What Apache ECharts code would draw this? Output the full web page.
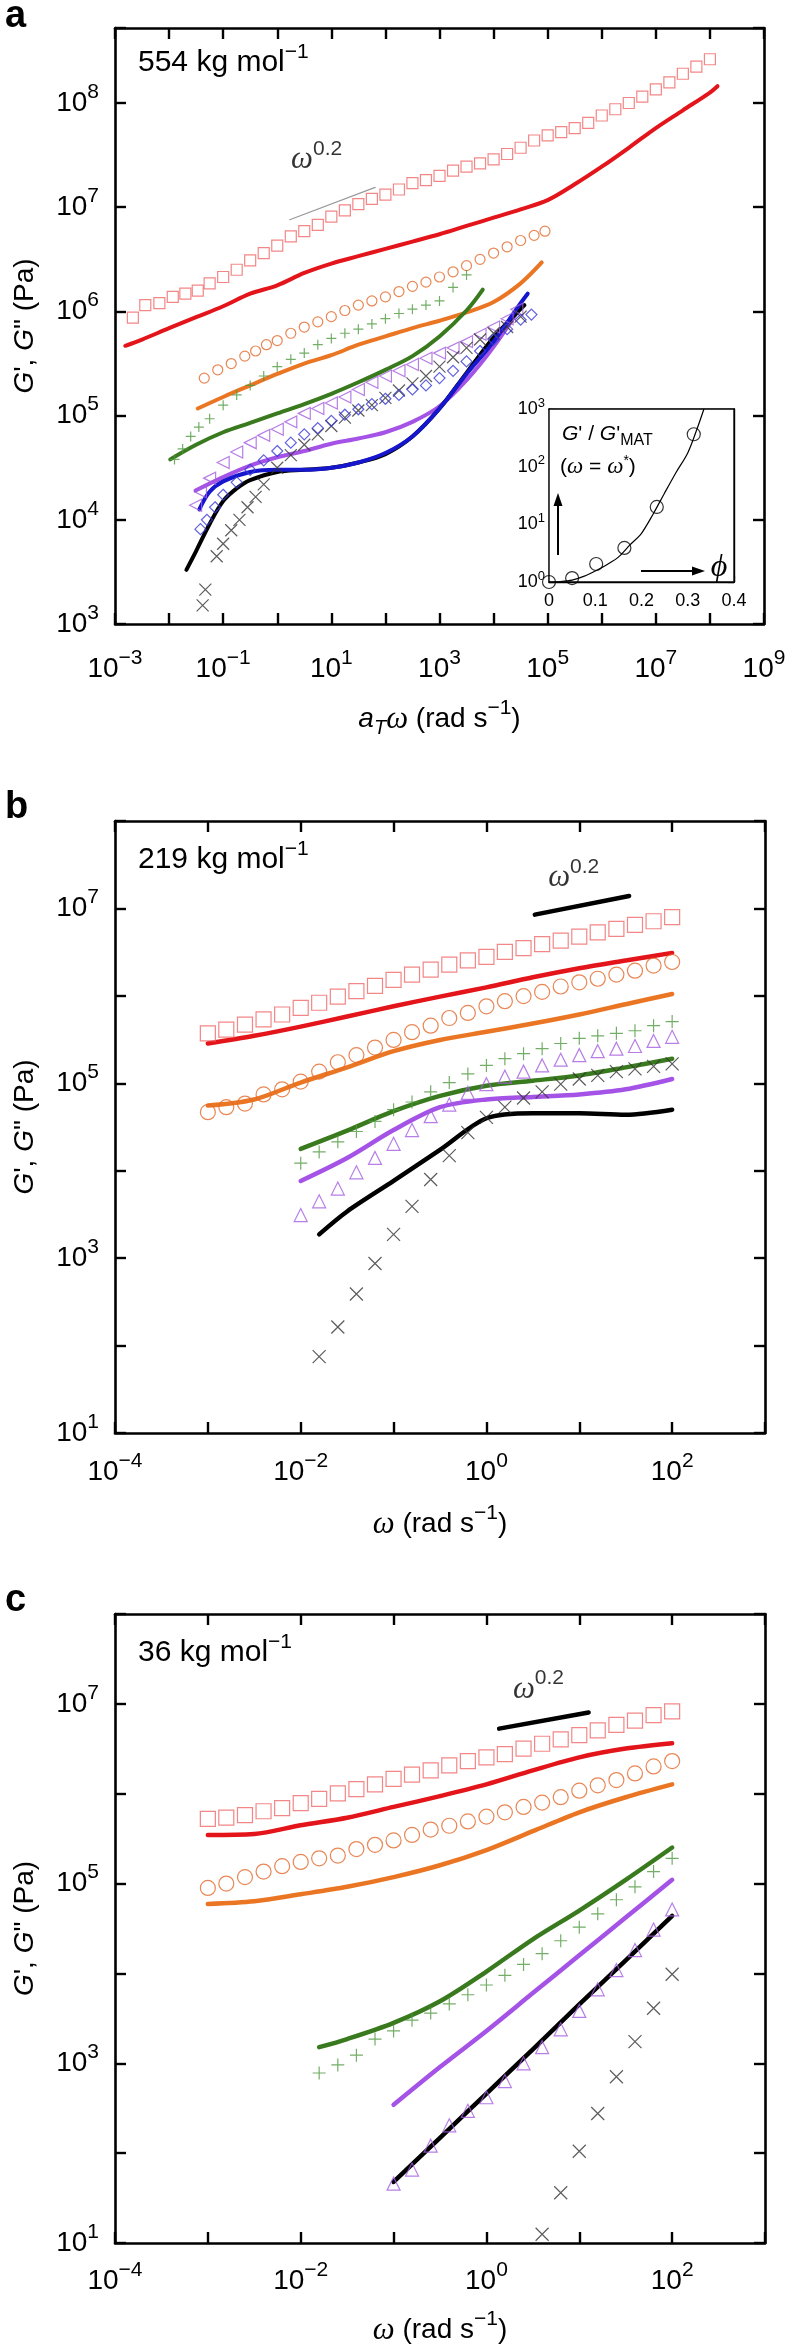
<!DOCTYPE html>
<html><head><meta charset="utf-8">
<script src="https://cdn.jsdelivr.net/npm/echarts@6/dist/echarts.min.js"></script>
<style>html,body{margin:0;padding:0;background:#fff}#c{width:788px;height:2346px}</style>
</head><body><div id="c"></div>
<script>
// ---------------- DATA (real units) ----------------
// Panel a : 554 kg/mol, master curves vs aT*omega
const aRedSqX = [2.14e-3,3.63e-3,6.61e-3,1.17e-2,2.0e-2,3.39e-2,5.62e-2,0.1,0.178,0.316,0.562,1,1.78,3.16,5.62,10,17.8,31.6,56.2,100,178,316,562,1e3,1.78e3,3.16e3,5.62e3,1e4,1.78e4,3.16e4,5.62e4,1e5,1.78e5,3.16e5,5.62e5,1e6,1.78e6,3.16e6,5.62e6,1e7,1.78e7,3.16e7,5.62e7,1e8];
const aRedSqY = [8.7e5,1.15e6,1.2e6,1.38e6,1.48e6,1.58e6,1.86e6,2.14e6,2.51e6,3.09e6,3.63e6,4.27e6,5.25e6,5.89e6,6.76e6,8.13e6,9.33e6,1.07e7,1.2e7,1.32e7,1.48e7,1.7e7,1.82e7,2.0e7,2.24e7,2.45e7,2.63e7,2.88e7,3.24e7,3.72e7,4.37e7,4.9e7,5.25e7,5.75e7,6.46e7,7.59e7,8.71e7,1e8,1.15e8,1.35e8,1.58e8,1.91e8,2.24e8,2.63e8];
const aRedLineX = [1.55e-3,3.16e-3,0.01,0.0316,0.1,0.316,1,3.16,10,31.6,100,316,1e3,3.16e3,1e4,3.16e4,1e5,3.16e5,1e6,3.16e6,1e7,3.16e7,1e8,1.38e8];
const aRedLineY = [4.68e5,5.37e5,6.9e5,8.8e5,1.12e6,1.48e6,1.78e6,2.34e6,2.88e6,3.39e6,3.98e6,4.68e6,5.5e6,6.61e6,7.94e6,9.55e6,1.17e7,1.66e7,2.45e7,3.72e7,5.75e7,8.51e7,1.26e8,1.45e8];
const aOrangeCircX = [0.0447,0.0794,0.141,0.251,0.398,0.631,1,1.78,3.16,5.62,10,17.8,31.6,56.2,100,178,316,562,1e3,1.78e3,3.16e3,5.62e3,1e4,1.78e4,3.16e4,5.62e4,8.91e4];
const aOrangeCircY = [2.29e5,2.75e5,3.16e5,3.72e5,4.17e5,4.79e5,5.25e5,6.17e5,7.08e5,7.94e5,8.91e5,1.02e6,1.15e6,1.26e6,1.38e6,1.55e6,1.74e6,1.91e6,2.14e6,2.4e6,2.75e6,3.16e6,3.63e6,4.17e6,4.79e6,5.37e6,5.89e6];
const aOrangeLineX = [0.0339,0.1,0.316,1,3.16,10,31.6,100,316,1e3,3.16e3,1e4,3.16e4,7.76e4];
const aOrangeLineY = [1.17e5,1.51e5,1.95e5,2.51e5,3.16e5,3.8e5,4.79e5,5.75e5,6.92e5,8.13e5,9.77e5,1.23e6,1.86e6,2.95e6];
const aGreenPlusX = [0.0126,0.0178,0.0251,0.0355,0.0562,0.1,0.178,0.316,0.562,1,1.78,3.16,5.62,10,17.8,31.6,56.2,100,178,316,562,1e3,1.78e3,3.16e3];
const aGreenPlusY = [3.8e4,4.79e4,6.31e4,7.76e4,9.33e4,1.26e5,1.58e5,1.95e5,2.4e5,2.95e5,3.47e5,3.98e5,4.79e5,5.5e5,6.17e5,6.76e5,7.59e5,8.51e5,9.55e5,1.05e6,1.15e6,1.26e6,1.7e6,2.24e6];
const aGreenLineX = [0.0105,0.0316,0.1,0.316,1,3.16,10,31.6,100,316,1e3,3.16e3,6.31e3];
const aGreenLineY = [3.8e4,5.25e4,6.92e4,8.51e4,1.05e5,1.29e5,1.62e5,2.09e5,2.75e5,3.72e5,5.75e5,1.02e6,1.62e6];
const aPurpleTriX = [0.0309,0.038,0.0562,0.1,0.178,0.316,0.562,1,1.78,3.16,5.62,10,17.8,31.6,56.2,100,178,316,562,1e3,1.78e3,3.16e3,5.62e3,1e4,1.78e4,2.69e4];
const aPurpleTriY = [1.38e4,1.86e4,2.51e4,3.55e4,4.47e4,5.5e4,6.46e4,7.41e4,8.71e4,1.05e5,1.17e5,1.32e5,1.51e5,1.78e5,2.09e5,2.4e5,2.69e5,3.09e5,3.55e5,3.98e5,4.47e5,5.13e5,6.03e5,7.08e5,8.51e5,1.05e6];
const aPurpleLineX = [0.0309,0.1,0.316,1,3.16,10,31.6,100,316,1e3,3.16e3,1e4,3.31e4];
const aPurpleLineY = [1.91e4,2.57e4,3.31e4,3.98e4,4.57e4,5.37e4,6.03e4,6.92e4,8.71e4,1.23e5,2.19e5,4.57e5,1.15e6];
const aBlueDiaX = [0.038,0.0501,0.0708,0.1,0.178,0.316,0.562,1,1.78,3.16,5.62,10,17.8,31.6,56.2,100,178,316,562,1e3,1.78e3,3.16e3,5.62e3,1e4,1.78e4,3.16e4,5.01e4];
const aBlueDiaY = [8.13e3,1e4,1.32e4,1.74e4,2.29e4,3.02e4,3.72e4,4.57e4,5.5e4,6.61e4,7.59e4,8.91e4,1.02e5,1.15e5,1.29e5,1.45e5,1.58e5,1.78e5,1.95e5,2.29e5,2.69e5,3.31e5,4.17e5,5.37e5,6.76e5,8.32e5,9.33e5];
const aBlueLineX = [0.0363,0.0562,0.1,0.316,1,3.16,10,31.6,100,316,1e3,3.16e3,1e4,3.16e4,4.27e4];
const aBlueLineY = [1.26e4,1.86e4,2.34e4,2.88e4,3.02e4,3.02e4,3.16e4,3.55e4,4.37e4,6.31e4,1.17e5,2.51e5,5.13e5,1.2e6,1.48e6];
const aBlackLineX = [0.0209,0.0316,0.0562,0.1,0.178,0.316,1,3.16,10,31.6,100,316,1e3,3.16e3,1e4,3.72e4];
const aBlackLineY = [3.31e3,5.01e3,9.12e3,1.51e4,2.0e4,2.4e4,2.88e4,3.02e4,3.16e4,3.55e4,4.27e4,6.31e4,1.17e5,2.57e5,5.62e5,1.15e6];
const aBlackXX = [0.0417,0.0468,0.0759,0.1,0.141,0.2,0.282,0.398,0.562,1,1.78,3.16,5.62,10,17.8,31.6,56.2,100,178,316,562,1e3,1.78e3,3.16e3,5.62e3,1e4,1.78e4,3.16e4];
const aBlackXY = [1.51e3,2.14e3,4.47e3,5.89e3,7.94e3,1e4,1.32e4,1.66e4,2.19e4,3.16e4,4.17e4,5.25e4,6.61e4,7.94e4,9.55e4,1.12e5,1.26e5,1.48e5,1.74e5,2.04e5,2.4e5,2.95e5,3.63e5,4.47e5,5.37e5,6.17e5,7.08e5,8.91e5];
const aSlopeX = [1.7,64.6];
const aSlopeY = [7.59e6,1.55e7];
const aSlopeLabel = [5.35,2.82e7];

// Inset of panel a
const insetPhi = [0,0.05,0.102,0.163,0.233,0.313];
const insetRatio = [1.0,1.17,2.05,3.9,20,365];
const insetFitPhi = [0,0.025,0.05,0.075,0.1,0.125,0.15,0.175,0.2,0.225,0.25,0.275,0.3,0.32,0.335];
const insetFitRatio = [1.0,1.02,1.08,1.25,1.55,2.0,2.7,4.4,7,15,35,80,173,450,1000];

// Panel b : 219 kg/mol
const bFreq = [0.001,0.00158,0.00251,0.00398,0.00631,0.01,0.0158,0.0251,0.0398,0.0631,0.1,0.158,0.251,0.398,0.631,1,1.58,2.51,3.98,6.31,10,15.8,25.1,39.8,63.1,100];
const bRedSqY = [3.73e5,4.10e5,4.69e5,5.37e5,6.12e5,7.29e5,8.34e5,9.79e5,1.135e6,1.30e6,1.52e6,1.75e6,2.0e6,2.28e6,2.54e6,2.79e6,3.19e6,3.51e6,3.90e6,4.29e6,4.76e6,5.31e6,5.83e6,6.49e6,7.13e6,7.94e6];
const bOrangeCircY = [4.67e4,5.33e4,5.86e4,7.46e4,8.53e4,1.045e5,1.36e5,1.74e5,2.10e5,2.56e5,3.13e5,3.84e5,4.56e5,5.58e5,6.38e5,7.60e5,8.69e5,9.93e5,1.11e6,1.28e6,1.43e6,1.57e6,1.75e6,1.94e6,2.22e6,2.44e6];
const bPlusX = [0.01,0.0158,0.0251,0.0398,0.0631,0.1,0.158,0.251,0.398,0.631,1,1.58,2.51,3.98,6.31,10,15.8,25.1,39.8,63.1,100];
const bPlusY = [1.22e4,1.64e4,2.14e4,2.81e4,3.66e4,4.99e4,6.11e4,7.98e4,1.02e5,1.28e5,1.60e5,1.91e5,2.18e5,2.49e5,2.85e5,3.27e5,3.49e5,3.73e5,3.99e5,4.56e5,5.08e5];
const bTriY = [3.11e3,4.47e3,6.25e3,9.59e3,1.40e4,2.03e4,2.92e4,4.20e4,5.71e4,7.76e4,9.77e4,1.19e5,1.36e5,1.60e5,1.86e5,2.10e5,2.33e5,2.49e5,2.67e5,3.05e5,3.40e5];
const bXX = [0.0158,0.0251,0.0398,0.0631,0.1,0.158,0.251,0.398,0.631,1,1.58,2.51,3.98,6.31,10,15.8,25.1,39.8,63.1,100];
const bXY = [74.8,163,389,869,1.87e3,3.91e3,7.94e3,1.49e4,2.73e4,4.08e4,5.33e4,6.79e4,7.98e4,9.77e4,1.12e5,1.23e5,1.36e5,1.46e5,1.56e5,1.67e5];
const bLineX = [0.001,0.00316,0.01,0.0316,0.1,0.316,1,3.16,10,31.6,100];
const bRedLineY = [2.85e5,3.49e5,4.45e5,5.81e5,7.6e5,9.8e5,1.25e6,1.63e6,2.07e6,2.54e6,3.1e6];
const bOrangeLineY = [5.56e4,6.53e4,1.02e5,1.52e5,2.33e5,3.13e5,3.88e5,4.82e5,6.12e5,8.02e5,1.05e6];
const bGreenLineX = [0.01,0.0316,0.1,0.316,1,3.16,10,31.6,100];
const bGreenLineY = [1.78e4,2.88e4,4.8e4,7.18e4,9.38e4,1.07e5,1.23e5,1.52e5,1.91e5];
const bPurpleLineY = [7.64e3,1.4e4,2.92e4,5.33e4,6.53e4,6.98e4,7.46e4,8.53e4,1.12e5];
const bBlackLineX = [0.0158,0.0316,0.1,0.316,1,3.16,10,31.6,100];
const bBlackLineY = [1.87e3,3.42e3,7.64e3,1.73e4,3.98e4,4.55e4,4.55e4,4.37e4,4.99e4];
const bSlopeX = [3.32,34.4];
const bSlopeY = [8.49e6,1.39e7];
const bSlopeLabel = [8.7,2.24e7];

// Panel c : 36 kg/mol
const cFreq = [0.001,0.00158,0.00251,0.00398,0.00631,0.01,0.0158,0.0251,0.0398,0.0631,0.1,0.158,0.251,0.398,0.631,1,1.58,2.51,3.98,6.31,10,15.8,25.1,39.8,63.1,100];
const cRedSqY = [5.26e5,5.41e5,5.79e5,6.38e5,6.93e5,7.85e5,8.77e5,1.007e6,1.125e6,1.27e6,1.46e6,1.63e6,1.82e6,2.07e6,2.31e6,2.54e6,2.76e6,3.18e6,3.60e6,4.02e6,4.49e6,5.08e6,5.83e6,6.52e6,7.48e6,8.24e6];
const cOrangeCircY = [8.95e4,1.0e5,1.18e5,1.36e5,1.56e5,1.74e5,1.91e5,2.05e5,2.42e5,2.70e5,3.02e5,3.48e5,3.99e5,4.40e5,4.91e5,5.56e5,6.21e5,7.13e5,7.96e5,9.14e5,1.08e6,1.24e6,1.42e6,1.68e6,2.01e6,2.31e6];
const cPlusX = [0.0158,0.0251,0.0398,0.0631,0.1,0.158,0.251,0.398,0.631,1,1.58,2.51,3.98,6.31,10,15.8,25.1,39.8,63.1,100];
const cPlusY = [780,959,1.23e3,1.86e3,2.29e3,3.02e3,3.62e3,4.58e3,5.79e3,7.43e3,9.53e3,1.26e4,1.66e4,2.31e4,3.27e4,4.61e4,6.61e4,9.2e4,1.36e5,1.91e5];
const cTriX = [0.1,0.158,0.251,0.398,0.631,1,1.58,2.51,3.98,6.31,10,15.8,25.1,39.8,63.1,100];
const cTriY = [45.8,65.6,121,204,296,419,634,1.0e3,1.51e3,2.39e3,3.83e3,6.65e3,1.09e4,1.82e4,3.08e4,5.15e4];
const cXX = [3.98,6.31,10,15.8,25.1,39.8,63.1,100];
const cXY = [12.5,36.2,105,276,708,1.74e3,4.1e3,9.79e3];
const cLineX = [0.001,0.00316,0.01,0.0316,0.1,0.316,1,3.16,10,31.6,100];
const cRedLineY = [3.48e5,3.57e5,4.46e5,5.41e5,7.13e5,9.4e5,1.27e6,1.82e6,2.54e6,3.18e6,3.65e6];
const cOrangeLineY = [5.92e4,6.34e4,7.59e4,9.2e4,1.18e5,1.6e5,2.36e5,3.83e5,6.21e5,9.14e5,1.27e6];
const cGreenLineX = [0.0158,0.0316,0.1,0.316,1,3.16,10,31.6,100];
const cGreenLineY = [1.51e3,1.86e3,2.82e3,4.91e3,1.05e4,2.4e4,5.01e4,1.1e5,2.52e5];
const cPurpleLineX = [0.1,0.316,1,3.16,10,31.6,100];
const cPurpleLineY = [345,908,2.29e3,6.04e3,1.59e4,4.19e4,1.1e5];
const cBlackLineX = [0.1,0.316,1,3.16,10,31.6,100];
const cBlackLineY = [47.8,148,461,1.43e3,4.52e3,1.4e4,4.37e4];
const cSlopeX = [1.37,12.6];
const cSlopeY = [5.3e6,8.02e6];
const cSlopeLabel = [3.63,1.45e7];

// ---------------- STYLE ----------------
const FONT = '"Liberation Sans", Arial, Helvetica, sans-serif';
const SERIF = '"Liberation Serif", "Times New Roman", serif';
const C = {
  redSq:'#f06868', redLine:'#e3141a', orCirc:'#e2692b', orLine:'#ea7624',
  grPlus:'#4f9a3f', grLine:'#3a7a1e', puTri:'#a45ee0', puLine:'#a453e6',
  blDia:'#3a3ad6', blLine:'#1616cc', bkX:'#333333', bkLine:'#000000'
};
const PLUS = 'path://M0,5L10,5M5,0L5,10';
const CROSS = 'path://M0,0L10,10M0,10L10,0';
const LEFT_TRI = 'path://M0,5L10,0L10,10Z';

const RICH = {
  b:{fontFamily:FONT,fontSize:28,color:'#000'},
  s:{fontFamily:FONT,fontSize:21,color:'#000',verticalAlign:'top',padding:[0,0,22,0]},
  i:{fontFamily:FONT,fontSize:28,color:'#000',fontStyle:'italic'},
  n:{fontFamily:FONT,fontSize:28,color:'#000'},
  sub:{fontFamily:FONT,fontSize:20,color:'#000',fontStyle:'italic',verticalAlign:'bottom',padding:[0,0,3,0]},
  w:{fontFamily:SERIF,fontSize:31,color:'#000',fontStyle:'italic'}
};
const RICH_IN = {
  b:{fontFamily:FONT,fontSize:18,color:'#000'},
  s:{fontFamily:FONT,fontSize:13,color:'#000',verticalAlign:'top',padding:[0,0,12,0]}
};

function pw(v){
  const n = Math.round(v);
  const e = n < 0 ? '\u2212' + (-n) : String(n);
  return '{b|10}{s|' + e + '}';
}
function isInt(v){ return Math.abs(v - Math.round(v)) < 1e-6; }
const fmtAll = v => isInt(v) ? pw(v) : '';
const fmtOdd = v => (isInt(v) && Math.abs(Math.round(v)) % 2 === 1) ? pw(v) : '';
const fmtEven = v => (isInt(v) && Math.round(v) % 2 === 0) ? pw(v) : '';

const L = (xs, ys) => xs.map((x, i) => [Math.log10(x), Math.log10(ys[i])]);

const grids = [
  {left:115, top:28, width:649, height:596},
  {left:115, top:821, width:650, height:612},
  {left:115, top:1614, width:650, height:629},
  {left:549, top:409, width:185, height:173, show:true, backgroundColor:'#fff', borderColor:'#000', borderWidth:1.4, z:5}
];
grids.forEach(g => { g.containLabel = false; g.outerBoundsMode = 'none'; });

const xAxes = [], yAxes = [];
function frameAxes(gi, xr, yr, xfmt, yfmt, xName, yName, xGap, xMargin){
  const line = {show:true, onZero:false, lineStyle:{color:'#000', width:2.6}};
  const tick = {show:true, inside:true, length:11, lineStyle:{color:'#000', width:2.4}};
  const base = {gridIndex:gi, type:'value', interval:1, splitLine:{show:false}, axisLine:line, axisTick:tick};
  xAxes.push(Object.assign({}, base, {min:xr[0], max:xr[1], position:'bottom',
    axisLabel:{formatter:xfmt, rich:RICH, margin:xMargin, color:'#000'},
    name:xName, nameLocation:'middle', nameGap:xGap, nameMoveOverlap:false,
    nameTextStyle:{rich:RICH, fontFamily:FONT, fontSize:28, color:'#000'}}));
  xAxes.push(Object.assign({}, base, {min:xr[0], max:xr[1], position:'top', axisLabel:{show:false}}));
  yAxes.push(Object.assign({}, base, {min:yr[0], max:yr[1], position:'left',
    axisLabel:{formatter:yfmt, rich:RICH, margin:16, color:'#000'},
    name:yName, nameLocation:'middle', nameGap:76, nameRotate:90, nameMoveOverlap:false,
    nameTextStyle:{rich:RICH, fontFamily:FONT, fontSize:28, color:'#000'}}));
  yAxes.push(Object.assign({}, base, {min:yr[0], max:yr[1], position:'right', axisLabel:{show:false}}));
}
const yTitle = "{i|G}{n|', }{i|G}{n|\" (Pa)}";
frameAxes(0, [-3, 9], [3, 8.72], fmtOdd, fmtAll, '{i|a}{sub|T}{w|ω}{n| (rad s}{s|\u22121}{n|)}', yTitle, 74, 24);
frameAxes(1, [-4, 3], [1, 8], fmtEven, fmtOdd, '{w|ω}{n| (rad s}{s|\u22121}{n|)}', yTitle, 70, 18);
frameAxes(2, [-4, 3], [1, 8], fmtEven, fmtOdd, '{w|ω}{n| (rad s}{s|\u22121}{n|)}', yTitle, 66, 17);

// inset axes (grid 3)
const inLine = {show:true, onZero:false, lineStyle:{color:'#000', width:1.4}};
xAxes.push({gridIndex:3, type:'value', min:0, max:0.4, interval:0.1, position:'bottom', splitLine:{show:false},
  axisLine:inLine, axisTick:{inside:true, length:6, lineStyle:{color:'#000', width:1.2}},
  minorTick:{show:true, splitNumber:2, length:5, lineStyle:{color:'#000', width:1.2}},
  axisLabel:{formatter: v => v === 0 ? '0' : v.toFixed(1), fontFamily:FONT, fontSize:18, color:'#000', margin:10}});
xAxes.push({gridIndex:3, type:'value', min:0, max:0.4, interval:0.1, position:'top', splitLine:{show:false},
  axisLine:inLine, axisTick:{show:false}, axisLabel:{show:false}});
yAxes.push({gridIndex:3, type:'value', min:0, max:3, interval:1, position:'left', splitLine:{show:false},
  axisLine:inLine, axisTick:{inside:true, length:6, lineStyle:{color:'#000', width:1.2}},
  axisLabel:{formatter:fmtAll, rich:RICH_IN, margin:4, color:'#000'}});
yAxes.push({gridIndex:3, type:'value', min:0, max:3, interval:1, position:'right', splitLine:{show:false},
  axisLine:inLine, axisTick:{inside:true, length:6, lineStyle:{color:'#000', width:1.2}}, axisLabel:{show:false}});

const AX = [0, 2, 4, 6]; // main axis index per grid
const series = [];
function line(gi, xs, ys, color, width, smooth){
  series.push({type:'line', xAxisIndex:AX[gi], yAxisIndex:AX[gi], data:L(xs, ys), symbol:'none', showSymbol:false,
    smooth: smooth || false, lineStyle:{color, width, cap:'round', join:'round'}, z:2, silent:true, animation:false});
}
function scat(gi, xs, ys, symbol, size, color){
  series.push({type:'scatter', xAxisIndex:AX[gi], yAxisIndex:AX[gi], data:L(xs, ys), symbol, symbolSize:size,
    itemStyle:{color:'rgba(0,0,0,0)', borderColor:color, borderWidth:1.2}, z:3, silent:true, animation:false});
}
function slopeLabel(gi, p){
  series.push({type:'scatter', xAxisIndex:AX[gi], yAxisIndex:AX[gi], data:[[Math.log10(p[0]), Math.log10(p[1])]],
    symbolSize:1, itemStyle:{color:'rgba(0,0,0,0)'}, silent:true, z:6,
    label:{show:true, position:'inside', formatter:'{w|ω}{s|0.2}', rich:RICH}});
}

// Panel a
line(0, aRedLineX, aRedLineY, C.redLine, 4, 0.35);
line(0, aOrangeLineX, aOrangeLineY, C.orLine, 4, 0.35);
line(0, aGreenLineX, aGreenLineY, C.grLine, 4, 0.35);
line(0, aPurpleLineX, aPurpleLineY, C.puLine, 4, 0.35);
line(0, aBlackLineX, aBlackLineY, C.bkLine, 4, 0.35);
line(0, aBlueLineX, aBlueLineY, C.blLine, 4, 0.35);
scat(0, aRedSqX, aRedSqY, 'rect', 11, C.redSq);
scat(0, aOrangeCircX, aOrangeCircY, 'circle', 10, C.orCirc);
scat(0, aGreenPlusX, aGreenPlusY, PLUS, 10, C.grPlus);
scat(0, aPurpleTriX, aPurpleTriY, LEFT_TRI, 12, C.puTri);
scat(0, aBlackXX, aBlackXY, CROSS, 12, C.bkX);
scat(0, aBlueDiaX, aBlueDiaY, 'diamond', 11, C.blDia);
line(0, aSlopeX, aSlopeY, '#999999', 1.2);
slopeLabel(0, aSlopeLabel);

// Inset
series.push({type:'line', xAxisIndex:6, yAxisIndex:6, data:insetFitPhi.map((x,i)=>[x, Math.log10(insetFitRatio[i])]),
  symbol:'none', smooth:0.3, lineStyle:{color:'#000', width:1.2}, z:7, silent:true, clip:true});
series.push({type:'scatter', xAxisIndex:6, yAxisIndex:6, data:insetPhi.map((x,i)=>[x, Math.log10(insetRatio[i])]),
  symbol:'circle', symbolSize:13, itemStyle:{color:'rgba(0,0,0,0)', borderColor:'#000', borderWidth:1.2}, z:8, silent:true, clip:false});

// Panel b
line(1, bLineX, bRedLineY, C.redLine, 4.5, 0.3);
line(1, bLineX, bOrangeLineY, C.orLine, 4.5, 0.3);
line(1, bGreenLineX, bGreenLineY, C.grLine, 4.5, 0.3);
line(1, bGreenLineX, bPurpleLineY, C.puLine, 4.5, 0.3);
line(1, bBlackLineX, bBlackLineY, C.bkLine, 4.5, 0.3);
scat(1, bFreq, bRedSqY, 'rect', 15, C.redSq);
scat(1, bFreq, bOrangeCircY, 'circle', 15, C.orCirc);
scat(1, bPlusX, bPlusY, PLUS, 13, C.grPlus);
scat(1, bPlusX, bTriY, 'triangle', 13, C.puTri);
scat(1, bXX, bXY, CROSS, 13, C.bkX);
line(1, bSlopeX, bSlopeY, '#000', 4.5);
slopeLabel(1, bSlopeLabel);

// Panel c
line(2, cLineX, cRedLineY, C.redLine, 4.5, 0.3);
line(2, cLineX, cOrangeLineY, C.orLine, 4.5, 0.3);
line(2, cGreenLineX, cGreenLineY, C.grLine, 4.5, 0.3);
line(2, cPurpleLineX, cPurpleLineY, C.puLine, 4.5, 0.3);
line(2, cBlackLineX, cBlackLineY, C.bkLine, 4.5, 0.3);
scat(2, cFreq, cRedSqY, 'rect', 15, C.redSq);
scat(2, cFreq, cOrangeCircY, 'circle', 15, C.orCirc);
scat(2, cPlusX, cPlusY, PLUS, 13, C.grPlus);
scat(2, cTriX, cTriY, 'triangle', 13, C.puTri);
scat(2, cXX, cXY, CROSS, 13, C.bkX);
line(2, cSlopeX, cSlopeY, '#000', 4.5);
slopeLabel(2, cSlopeLabel);

// ---------------- ANNOTATIONS ----------------
const RICH_T = {
  b:{fontFamily:FONT,fontSize:30,color:'#000'},
  s:{fontFamily:FONT,fontSize:21,color:'#000',verticalAlign:'top',padding:[0,0,22,0]}
};
const RICH_INSET = {
  i:{fontFamily:FONT,fontSize:21,color:'#000',fontStyle:'italic'},
  n:{fontFamily:FONT,fontSize:21,color:'#000'},
  sub:{fontFamily:FONT,fontSize:16,color:'#000',verticalAlign:'bottom',padding:[14,0,0,0]},
  w:{fontFamily:SERIF,fontSize:23,color:'#000',fontStyle:'italic'},
  st:{fontFamily:FONT,fontSize:14,color:'#000',verticalAlign:'top',padding:[0,0,12,0]}
};
const graphic = [
  {type:'text', style:{x:5, y:17, text:'a', fontFamily:FONT, fontSize:38, fontWeight:'bold', fill:'#000', verticalAlign:'middle'}},
  {type:'text', style:{x:5, y:808, text:'b', fontFamily:FONT, fontSize:38, fontWeight:'bold', fill:'#000', verticalAlign:'middle'}},
  {type:'text', style:{x:5, y:1601, text:'c', fontFamily:FONT, fontSize:38, fontWeight:'bold', fill:'#000', verticalAlign:'middle'}},
  {type:'text', style:{x:138, y:63, text:'{b|554 kg mol}{s|\u22121}', rich:RICH_T, verticalAlign:'middle'}},
  {type:'text', style:{x:138, y:860, text:'{b|219 kg mol}{s|\u22121}', rich:RICH_T, verticalAlign:'middle'}},
  {type:'text', style:{x:138, y:1653, text:'{b|36 kg mol}{s|\u22121}', rich:RICH_T, verticalAlign:'middle'}},
  {type:'text', z:20, style:{x:562, y:434, text:"{i|G}{n|' / }{i|G}{n|'}{sub|MAT}", rich:RICH_INSET, verticalAlign:'middle'}},
  {type:'text', z:20, style:{x:560, y:467, text:"{n|(}{w|ω}{n| = }{w|ω}{st|*}{n|)}", rich:RICH_INSET, verticalAlign:'middle'}},
  {type:'line', z:20, shape:{x1:558, y1:555, x2:558, y2:503}, style:{stroke:'#000', lineWidth:2}},
  {type:'polygon', z:20, shape:{points:[[558,493],[553.5,506],[562.5,506]]}, style:{fill:'#000'}},
  {type:'line', z:20, shape:{x1:641, y1:571, x2:694, y2:571}, style:{stroke:'#000', lineWidth:2}},
  {type:'polygon', z:20, shape:{points:[[705,571],[692,566.5],[692,575.5]]}, style:{fill:'#000'}},
  {type:'text', z:20, style:{x:719, y:568, text:'ϕ', fontFamily:SERIF, fontSize:32, fontStyle:'italic', fill:'#000', align:'center', verticalAlign:'middle'}}
];

const chart = echarts.init(document.getElementById('c'), null, {renderer:'canvas'});
chart.setOption({
  animation:false,
  backgroundColor:'#fff',
  textStyle:{fontFamily:FONT},
  grid:grids, xAxis:xAxes, yAxis:yAxes, series, graphic
});
</script></body></html>
